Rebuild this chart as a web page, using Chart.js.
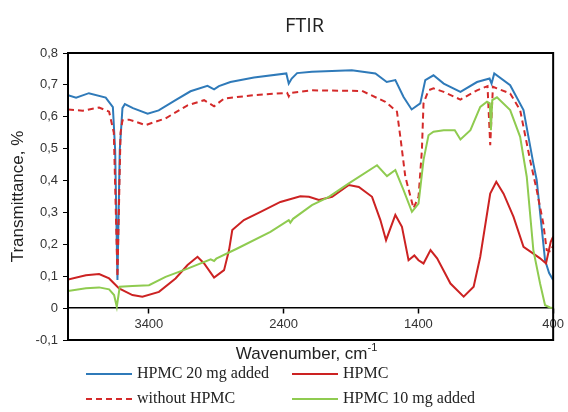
<!DOCTYPE html>
<html>
<head>
<meta charset="utf-8">
<script src="https://cdn.jsdelivr.net/npm/chart.js@4"></script>
<style>
html, body { margin: 0; padding: 0; background: #fff; }
</style>
</head>
<body>
<canvas id="chart" width="568" height="412"></canvas>
<script>
// wavenumber (cm-1) / transmittance pairs
var blueWn = [4000,3940,3845,3720,3667,3650,3633,3616,3596,3578,3518,3409,3327,3202,3091,2965,2916,2880,2795,2620,2380,2362,2340,2300,2190,1894,1719,1635,1571,1510,1450,1386,1349,1288,1212,1088,965,872,857,837,719,620,547,522,460,430,400];
var blueT  = [0.668,0.66,0.674,0.66,0.63,0.495,0.088,0.495,0.627,0.64,0.627,0.61,0.62,0.652,0.68,0.697,0.686,0.696,0.709,0.723,0.736,0.704,0.72,0.737,0.741,0.746,0.736,0.709,0.715,0.662,0.623,0.642,0.715,0.73,0.704,0.678,0.709,0.72,0.704,0.736,0.699,0.621,0.454,0.401,0.15,0.11,0.088];

var dashWn = [4000,3891,3769,3695,3660,3633,3610,3596,3547,3424,3276,3113,2990,2916,2842,2620,2374,2362,2350,2190,1818,1768,1645,1559,1534,1497,1436,1399,1374,1362,1325,1288,1212,1088,965,887,867,847,817,719,645,571,522,473,448,418,400];
var dashT  = [0.623,0.619,0.629,0.616,0.55,0.098,0.55,0.589,0.591,0.574,0.595,0.636,0.652,0.633,0.657,0.668,0.675,0.664,0.675,0.683,0.681,0.671,0.647,0.616,0.537,0.412,0.313,0.349,0.495,0.642,0.683,0.689,0.678,0.654,0.683,0.696,0.511,0.694,0.689,0.673,0.621,0.464,0.370,0.265,0.182,0.177,0.197];

var redWn = [4000,3867,3769,3695,3621,3522,3448,3325,3202,3113,3039,2990,2916,2842,2805,2781,2695,2571,2424,2276,2212,2138,2040,1916,1842,1744,1682,1640,1571,1522,1473,1430,1399,1362,1310,1261,1162,1064,990,941,867,822,768,694,620,547,497,453,418,400];
var redT  = [0.090,0.103,0.107,0.093,0.062,0.041,0.036,0.051,0.093,0.135,0.161,0.140,0.096,0.119,0.182,0.245,0.276,0.302,0.333,0.351,0.349,0.339,0.349,0.386,0.380,0.349,0.276,0.213,0.292,0.255,0.150,0.165,0.150,0.140,0.182,0.156,0.077,0.036,0.067,0.161,0.359,0.396,0.359,0.286,0.192,0.171,0.156,0.140,0.208,0.224];

var greenWn = [4000,3867,3769,3695,3658,3638,3616,3522,3399,3276,3113,2941,2916,2900,2744,2498,2362,2350,2330,2190,2064,1916,1707,1633,1571,1510,1448,1399,1362,1325,1288,1212,1130,1088,1014,941,891,870,862,852,817,719,645,596,547,497,460,424,400];
var greenT  = [0.054,0.062,0.065,0.059,0.041,0.004,0.067,0.069,0.072,0.098,0.124,0.153,0.148,0.155,0.187,0.239,0.276,0.268,0.280,0.323,0.349,0.391,0.448,0.414,0.433,0.370,0.302,0.328,0.464,0.542,0.553,0.558,0.558,0.529,0.558,0.631,0.647,0.642,0.558,0.652,0.661,0.621,0.537,0.412,0.182,0.077,0.009,0.002,0.0];

var seriesNames = ['HPMC 20 mg added', 'without HPMC', 'HPMC', 'HPMC 10 mg added'];
var xTicks = [3400, 2400, 1400, 400];

function pairs(xs, ys) {
    return xs.map(function (x, i) { return { x: x, y: ys[i] }; });
}

var colors = ['#2f7ab9', '#d42a2a', '#cc2222', '#8fcb50'];
var dashes = [[], [6, 4], [], []];

var extras = {
    id: 'extras',
    afterDatasetsDraw: function (chart) {
        var c = chart.ctx, a = chart.chartArea;
        c.save();
        c.strokeStyle = '#000';
        c.lineWidth = 2;
        c.strokeRect(a.left, a.top, a.right - a.left, a.bottom - a.top);
        c.restore();
    },
    afterDraw: function (chart) {
        var c = chart.ctx, a = chart.chartArea;
        c.save();
        // title
        c.fillStyle = '#222';
        c.font = '20px "Open Sans"';
        c.textAlign = 'center';
        c.textBaseline = 'middle';
        c.fillText('FTIR', (a.left + a.right) / 2 - 6, 26);

        // x axis title with superscript
        c.fillStyle = '#222';
        var main = 'Wavenumber, cm';
        c.font = '17px "Liberation Sans"';
        var w1 = c.measureText(main).width;
        c.font = '11px "Liberation Sans"';
        var w2 = c.measureText('-1').width;
        var sx = (a.left + a.right) / 2 - (w1 + w2) / 2 - 4;
        c.textAlign = 'left';
        c.textBaseline = 'alphabetic';
        c.font = '17px "Liberation Sans"';
        c.fillText(main, sx, 359);
        c.font = '11px "Liberation Sans"';
        c.fillText('-1', sx + w1, 351);

        // legend, two columns
        var cols = [86, 292];
        var rows = [374, 399];
        var order = [[0, 0, 0], [2, 1, 0], [1, 0, 1], [3, 1, 1]];
        c.font = '16px "Liberation Serif"';
        c.textBaseline = 'middle';
        order.forEach(function (o) {
            var i = o[0], x = cols[o[1]], y = rows[o[2]];
            c.strokeStyle = colors[i];
            c.lineWidth = 2;
            c.setLineDash(dashes[i]);
            c.beginPath();
            c.moveTo(x, y);
            c.lineTo(x + 46, y);
            c.stroke();
            c.setLineDash([]);
            c.fillStyle = '#222';
            c.fillText(seriesNames[i], x + 51, y);
        });
        c.restore();
    }
};

function ds(i, xs, ys) {
    return {
        label: seriesNames[i],
        data: pairs(xs, ys),
        borderColor: colors[i],
        borderDash: dashes[i],
        borderWidth: 2,
        pointRadius: 0,
        fill: false,
        tension: 0
    };
}

var ctx = document.getElementById('chart').getContext('2d');
var chart = new Chart(ctx, {
    type: 'line',
    data: {
        datasets: [
            ds(3, greenWn, greenT),
            ds(2, redWn, redT),
            ds(1, dashWn, dashT),
            ds(0, blueWn, blueT)
        ]
    },
    options: {
        responsive: false,
        animation: false,
        layout: { padding: { left: 0, right: 12, top: 53, bottom: 72 } },
        plugins: { legend: { display: false }, tooltip: { enabled: false } },
        scales: {
            x: {
                type: 'linear',
                min: 400,
                max: 4000,
                reverse: true,
                position: { y: 0 },
                offset: false,
                afterBuildTicks: function (scale) {
                    scale.ticks = xTicks.map(function (v) { return { value: v }; });
                },
                grid: { drawOnChartArea: false, drawTicks: true, tickLength: 5, color: '#000', tickWidth: 1.5 },
                border: { display: true, color: '#000', width: 1.5 },
                ticks: {
                    maxRotation: 0,
                    autoSkip: false,
                    padding: 4,
                    color: '#333',
                    font: { family: 'Liberation Sans', size: 13 },
                    callback: function (v) { return String(v); }
                }
            },
            y: {
                min: -0.1,
                max: 0.8,
                afterFit: function (scale) { scale.width = 68; },
                grid: { drawOnChartArea: false, drawTicks: true, tickLength: 5, color: '#000' },
                border: { display: true, color: '#000', width: 2 },
                ticks: {
                    stepSize: 0.1,
                    padding: 5,
                    color: '#333',
                    font: { family: 'Liberation Sans', size: 13 },
                    callback: function (v) {
                        if (Math.abs(v) < 1e-9) return '0';
                        return v.toFixed(1).replace('.', ',');
                    }
                },
                title: {
                    display: true,
                    text: 'Transmittance, %',
                    color: '#222',
                    font: { family: 'Liberation Sans', size: 17 },
                    padding: { top: 8, bottom: 0 }
                }
            }
        }
    },
    plugins: [extras]
});
</script>
</body>
</html>
